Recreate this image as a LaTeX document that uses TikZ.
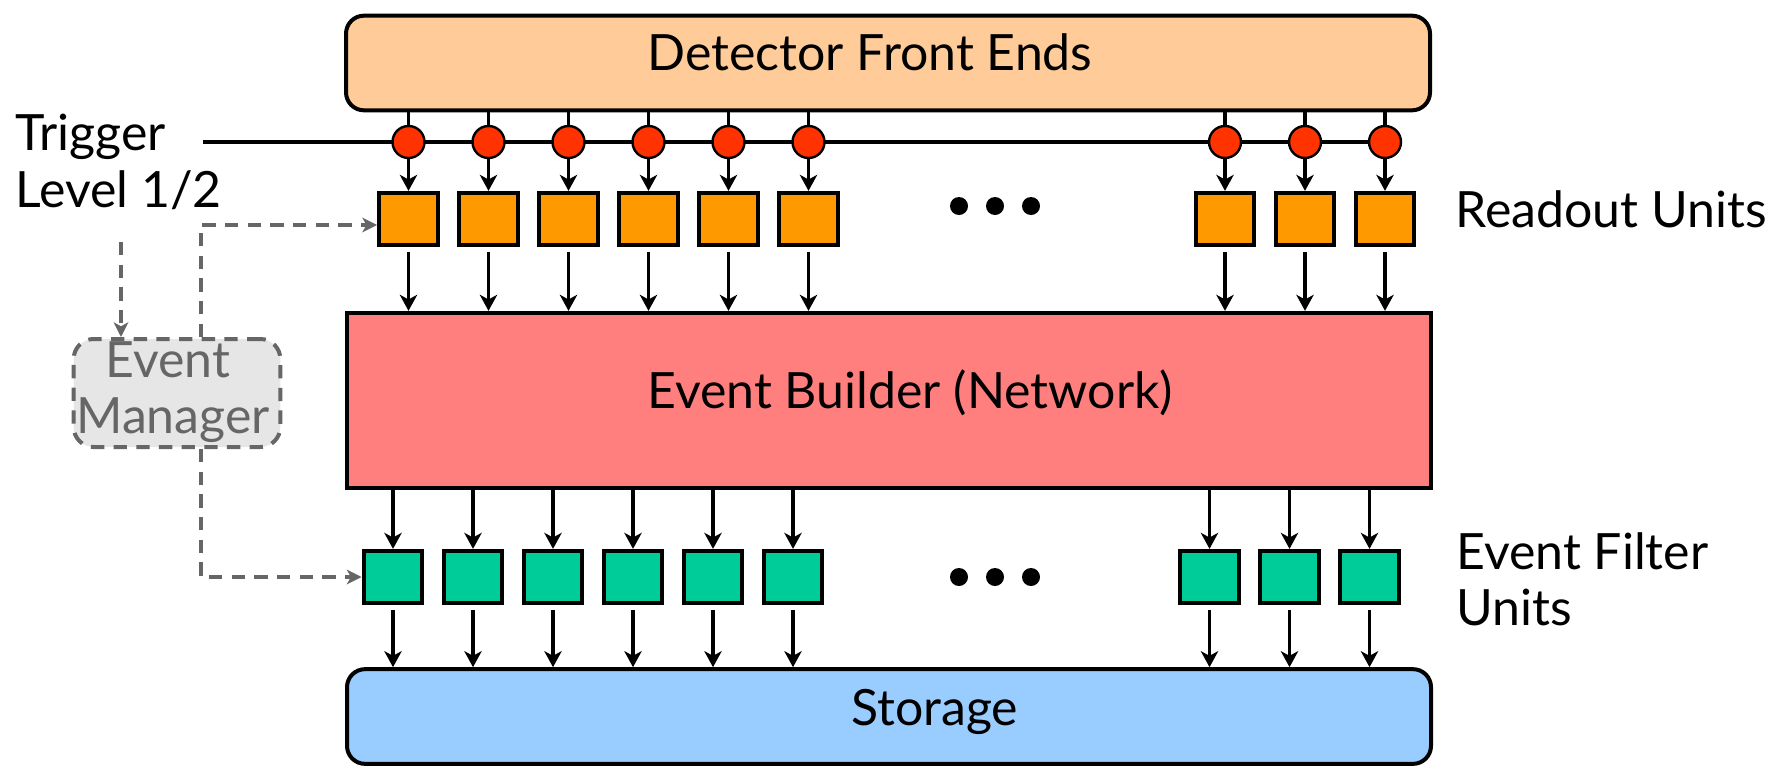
\documentclass[tikz,border=0pt]{standalone}
\usepackage{fontspec}
\setmainfont{Lato}
\usetikzlibrary{arrows.meta,calc}
\definecolor{dfefill}{HTML}{FFCC99}
\definecolor{ebfill}{HTML}{FF7F7F}
\definecolor{stfill}{HTML}{99CCFF}
\definecolor{rofill}{HTML}{FF9900}
\definecolor{effill}{HTML}{00CC99}
\definecolor{trigred}{HTML}{FF3300}
\definecolor{emfill}{HTML}{E6E6E6}
\definecolor{emgray}{HTML}{666666}
\pgfdeclarelayer{bg}
\pgfsetlayers{bg,main}
\begin{document}
\begin{tikzpicture}[x=0.75pt,y=-0.75pt,
 bigbox/.style={draw, line width=3pt, minimum width=813pt, inner sep=0pt},
 unitbox/.style={draw, line width=3.2pt, minimum width=44pt, minimum height=39pt, inner sep=0pt},
 tdot/.style={circle, draw, line width=1.8pt, fill=trigred, minimum size=24pt, inner sep=0pt},
 lbl/.style={font=\fontsize{37.5pt}{45pt}\selectfont, inner sep=0pt},
 arr/.style={line width=2.8pt, -{Stealth[length=12pt,width=13pt,inset=3.5pt]}},
 feed/.style={line width=2.8pt},
 dasharr/.style={line width=3pt, draw=emgray, dash pattern=on 10pt off 7pt, -{Stealth[length=11pt,width=11pt,inset=3pt,fill=emgray]}},
 ellip/.style={circle, fill=black, minimum size=13.5pt, inner sep=0pt},
 embox/.style={draw=emgray, dash pattern=on 10pt off 7pt, line width=3pt, fill=emfill, rounded corners=15pt, minimum width=155pt, minimum height=81pt, inner sep=0pt}
]
\useasboundingbox (0,0) rectangle (1773,768);

% big boxes
\node[bigbox, rounded corners=13.5pt, fill=dfefill, minimum height=71pt] (dfe) at (888,63) {};
\node[bigbox, fill=ebfill, minimum height=131.5pt] (eb) at (889,400.5) {};
\node[bigbox, rounded corners=13.5pt, fill=stfill, minimum height=71pt] (st) at (889,716.5) {};

\node[lbl, anchor=base] (dfelbl) at (870,70) {Detector Front Ends};
\node[lbl, anchor=base] (eblbl) at (910,408) {Event Builder (Network)};
\node[lbl, anchor=base] (stlbl) at (934.5,725) {Storage};

% readout columns
\foreach \i/\x in {1/408.5,2/488.5,3/568.5,4/648.5,5/728.5,6/808.5,7/1225,8/1305,9/1385}{
  \node[tdot] (c\i) at (\x,142) {};
  \node[unitbox, fill=rofill] (o\i) at (\x,219) {};
}
\coordinate (trigstart) at (203,142);
\begin{pgfonlayer}{bg}
  \draw[feed] (trigstart) -- (c9.east);
\end{pgfonlayer}
\foreach \i in {1,...,9}{
  \draw[feed] (c\i.north) -- (c\i.north |- dfe.south);
  \draw[arr] (c\i.south) -- (o\i.north);
  \draw[arr, shorten <=3.75pt] (o\i.south) -- (o\i.south |- eb.north);
}

% filter columns
\foreach \i/\x in {1/393,2/473,3/553,4/633,5/713,6/793,7/1209.5,8/1289.5,9/1369.5}{
  \node[unitbox, fill=effill] (g\i) at (\x,577) {};
}
\foreach \i in {1,...,9}{
  \draw[arr] (g\i.north |- eb.south) -- (g\i.north);
  \draw[arr, shorten <=3.75pt] (g\i.south) -- (g\i.south |- st.north);
}

% ellipsis dots
\node[ellip] (ra) at (959,206) {};
\node[ellip] (rb) at (995,206) {};
\node[ellip] (rc) at (1031,206) {};
\node[ellip] (fa) at (959,577) {};
\node[ellip] (fb) at (995,577) {};
\node[ellip] (fc) at (1031,577) {};

% side labels
\node[lbl, anchor=base west] (trig1) at (15,150) {Trigger};
\node[lbl, anchor=base west] (trig2) at (15,207) {Level 1/2};
\node[lbl, anchor=base west] (rolbl) at (1455,227) {Readout Units};
\node[lbl, anchor=base west] (ef1) at (1456,569) {Event Filter};
\node[lbl, anchor=base west] (ef2) at (1456,625) {Units};

% event manager
\node[embox] (em) at (177,393) {};
\node[lbl, anchor=base, text=emgray] (em1) at (168,377) {Event};
\node[lbl, anchor=base, text=emgray] (em2) at (173,433) {Manager};

\coordinate (trigdash) at (121,242);
\coordinate (emx) at (201,0);
\draw[dasharr] (trigdash) -- (trigdash |- em.north);
\draw[dasharr] (emx |- em.north) |- ([yshift=-4.5pt]o1.west);
\draw[dasharr] (emx |- em.south) |- (g1.west);
\end{tikzpicture}
\end{document}
